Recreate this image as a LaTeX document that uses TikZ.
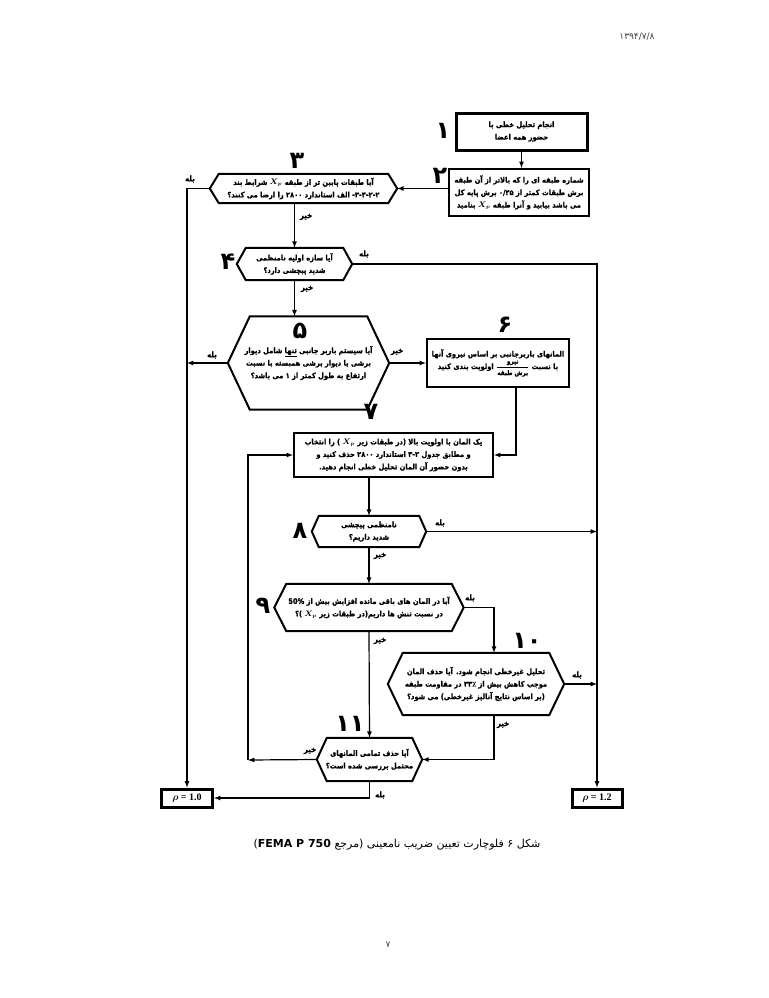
\documentclass[tikz,border=0pt]{standalone}
\usepackage{fontspec}
\usepackage{amsmath}
\newfontfamily\arabicfont[Script=Arabic, FakeStretch=0.88, BoldFeatures={FakeBold=0.9}]{DejaVu Sans}
\newfontfamily\plainarabic[Script=Arabic]{DejaVu Sans}
\newfontfamily\timesfont{Liberation Serif}
\TeXXeTstate=1
\newcommand{\fa}[1]{{\arabicfont\beginR #1\endR}}
\newcommand{\boxfont}{\arabicfont\bfseries\fontsize{7.6}{12.5}\selectfont}
\newcommand{\numfont}{\plainarabic\bfseries\fontsize{24}{24}\selectfont}
% hexagon round a named decision node: #1 name, #2 slant
\newcommand{\hexa}[2]{\draw[hexline] (#1.west) -- ([xshift=#2]#1.north west) -- ([xshift=-#2]#1.north east) -- (#1.east) -- ([xshift=-#2]#1.south east) -- ([xshift=#2]#1.south west) -- cycle;}

\begin{document}
\begin{tikzpicture}[x=1pt,y=-1pt]
      \tikzstyle{process}=[rectangle, draw=black, line width=2.1pt, inner sep=2pt, align=center, font=\boxfont]
      \tikzstyle{first}=[process, line width=3pt]
      \tikzstyle{decision}=[rectangle, inner sep=0pt, align=center, font=\boxfont]
      \tikzstyle{hexline}=[line width=2pt, line join=miter]
      \tikzstyle{result}=[rectangle, draw=black, line width=3pt, inner sep=0pt, font=\timesfont\bfseries\fontsize{10}{10}\selectfont]
      \tikzstyle{num}=[font=\numfont, inner sep=0pt]
      \tikzstyle{lbl}=[font=\boxfont\fontsize{8}{8}\selectfont, inner sep=1pt]
      \tikzstyle{connect}=[-latex, line width=1.2pt]

      \fill[white] (0,0) rectangle (768,998);
      \useasboundingbox (0,0) rectangle (768,998);

      \node[font=\plainarabic\fontsize{9}{9}\selectfont, text=black!75] (date) at (637,37) {۱۳۹۴/۷/۸};

      % steps
      \node[first, minimum width=131pt, minimum height=37pt] (b1) at (521.5,131.5) {\fa{انجام تحلیل خطی با}\\\fa{حضور همه اعضا}};
      \node[process, minimum width=140pt, minimum height=47pt] (b2) at (519,192.5) {\fa{شماره طبقه ای  را که بالاتر از آن طبقه}\\\fa{برش طبقات کمتر از ۰/۳۵ برش پایه کل}\\\fa{می باشد بیابید و آنرا طبقه $\boldsymbol{X_p}$ بنامید}};
      \node[decision, minimum width=187pt, minimum height=29pt] (b3) at (303.5,188.5) {\fa{آیا طبقات پایین تر از طبقه $\boldsymbol{X_p}$ شرایط بند}\\\fa{۳-۳-۲-۲- الف استاندارد ۲۸۰۰ را ارضا می کنند؟}};
      \node[decision, minimum width=115pt, minimum height=32pt] (b4) at (294.5,264) {\fa{آیا سازه اولیه نامنظمی}\\\fa{شدید پیچشی دارد؟}};
      \node[decision, minimum width=161pt, minimum height=93pt] (b5) at (308.5,363) {\fa{آیا سیستم باربر جانبی \underline{تنها} شامل دیوار}\\\fa{برشی یا دیوار برشی همبسته با نسبت}\\\fa{ارتفاع به طول کمتر از ۱ می باشد؟}};
      \node[process, minimum width=142pt, minimum height=48pt] (b6) at (498,363) {\fa{المانهای باربرجانبی بر اساس نیروی آنها}\\\fa{با نسبت \hbox{$\dfrac{\hbox{\fontsize{6.5}{7}\selectfont\fa{نیرو}}}{\hbox{\fontsize{6.5}{7}\selectfont\fa{برش طبقه}}}$} اولویت بندی کنید}};
      \node[process, minimum width=199pt, minimum height=44pt] (b7) at (393.5,455) {\fa{یک المان با اولویت بالا (در طبقات زیر $\boldsymbol{X_p}$ ) را انتخاب}\\\fa{و مطابق جدول ۳-۲ استاندارد ۲۸۰۰ حذف کنید و}\\\fa{بدون حضور آن المان تحلیل خطی انجام دهید.}};
      \node[decision, minimum width=114pt, minimum height=31pt] (b8) at (369,531.5) {\fa{نامنظمی پیچشی}\\\fa{شدید داریم؟}};
      \node[decision, minimum width=189pt, minimum height=47pt] (b9) at (369,607.5) {\fa{آیا در المان های باقی مانده افزایش بیش از \beginL 50\%\endL}\\\fa{در نسبت تنش ها داریم(در طبقات زیر $\boldsymbol{X_p}$ )؟}};
      \node[decision, minimum width=176pt, minimum height=62pt] (b10) at (476,684) {\fa{تحلیل غیرخطی انجام شود. آیا حذف المان}\\\fa{موجب کاهش بیش از ۳۳٪ در مقاومت طبقه}\\\fa{(بر اساس نتایج آنالیز غیرخطی) می شود؟}};
      \node[decision, minimum width=105pt, minimum height=43pt] (b11) at (369.5,759.5) {\fa{آیا حذف تمامی المانهای}\\\fa{محتمل بررسی شده است؟}};
      \node[result, minimum width=51pt, minimum height=18pt] (r1) at (187,798) {$\boldsymbol{\rho}$ = 1.0};
      \node[result, minimum width=50pt, minimum height=18pt] (r2) at (597,798) {$\boldsymbol{\rho}$ = 1.2};

      \hexa{b3}{9pt}
      \hexa{b4}{9pt}
      \hexa{b5}{22pt}
      \hexa{b8}{7pt}
      \hexa{b9}{12pt}
      \hexa{b10}{15pt}
      \hexa{b11}{10pt}

      % step numbers
      \node[num] (n1) at (443,131) {۱};
      \node[num] (n2) at (440,176) {۲};
      \node[num] (n3) at (297,161) {۳};
      \node[num] (n4) at (228,262) {۴};
      \node[num] (n5) at (300,331) {۵};
      \node[num] (n6) at (505,325) {۶};
      \node[num] (n7) at (371,412) {۷};
      \node[num] (n8) at (300,531) {۸};
      \node[num] (n9) at (263,606) {۹};
      \node[num] (n10) at (527,641) {۱۰};
      \node[num] (n11) at (350,724) {۱۱};

      % yes / no labels
      \node[lbl] (y3) at (190,179) {\fa{بله}};
      \node[lbl] (x3) at (306,217) {\fa{خیر}};
      \node[lbl] (y4) at (364,254) {\fa{بله}};
      \node[lbl] (x4) at (307,289) {\fa{خیر}};
      \node[lbl] (y5) at (212,355) {\fa{بله}};
      \node[lbl] (x5) at (397,352) {\fa{خیر}};
      \node[lbl] (y8) at (440,523) {\fa{بله}};
      \node[lbl] (x8) at (380,556) {\fa{خیر}};
      \node[lbl] (y9) at (470,598) {\fa{بله}};
      \node[lbl] (x9) at (380,641) {\fa{خیر}};
      \node[lbl] (y10) at (577,675) {\fa{بله}};
      \node[lbl] (x10) at (503,725) {\fa{خیر}};
      \node[lbl] (x11) at (310,751) {\fa{خیر}};
      \node[lbl] (y11) at (380,795) {\fa{بله}};

      \coordinate (back) at (248,760);

      % connectors
      \draw[connect] (b1.south) -- (b1.south |- b2.north);
      \draw[connect] (b2.west |- b3.east) -- (b3.east);
      \draw[connect] (b3.west) -| (r1.north);
      \draw[connect] (b3.south -| b4.north) -- (b4.north);
      \draw[connect] (b4.east) -| (r2.north);
      \draw[connect] (b4.south) -- (b4.south |- b5.north);
      \draw[connect] (b5.west) -- (b5.west -| r1.north);
      \draw[connect] (b5.east) -- (b6.west);
      \draw[connect] ([xshift=18pt]b6.south) |- (b7.east);
      \draw[connect] (b7.south -| b8.north) -- (b8.north);
      \draw[connect] (b8.east) -- (b8.east -| r2.north);
      \draw[connect] (b8.south) -- (b9.north);
      \draw[connect] (b9.east) -| ([xshift=18pt]b10.north);
      \draw[connect] (b9.south) -- (b11.north);
      \draw[connect] (b10.east) -- (b10.east -| r2.north);
      \draw[connect] ([xshift=18pt]b10.south) |- (b11.east);
      \draw[connect] (b11.west) -- (back);
      \draw[connect] (back) |- (b7.west);
      \draw[connect] (b11.south) |- (r1.east);

      \node[font=\plainarabic\fontsize{11}{11}\selectfont] (caption) at (397,845) {\plainarabic\beginR شکل ۶ فلوچارت تعیین ضریب نامعینی (مرجع \beginL\textbf{FEMA P 750}\endL)\endR};
      \node[font=\plainarabic\fontsize{9}{9}\selectfont, text=black!75] (page) at (388,945) {۷};
    \end{tikzpicture}
\end{document}
